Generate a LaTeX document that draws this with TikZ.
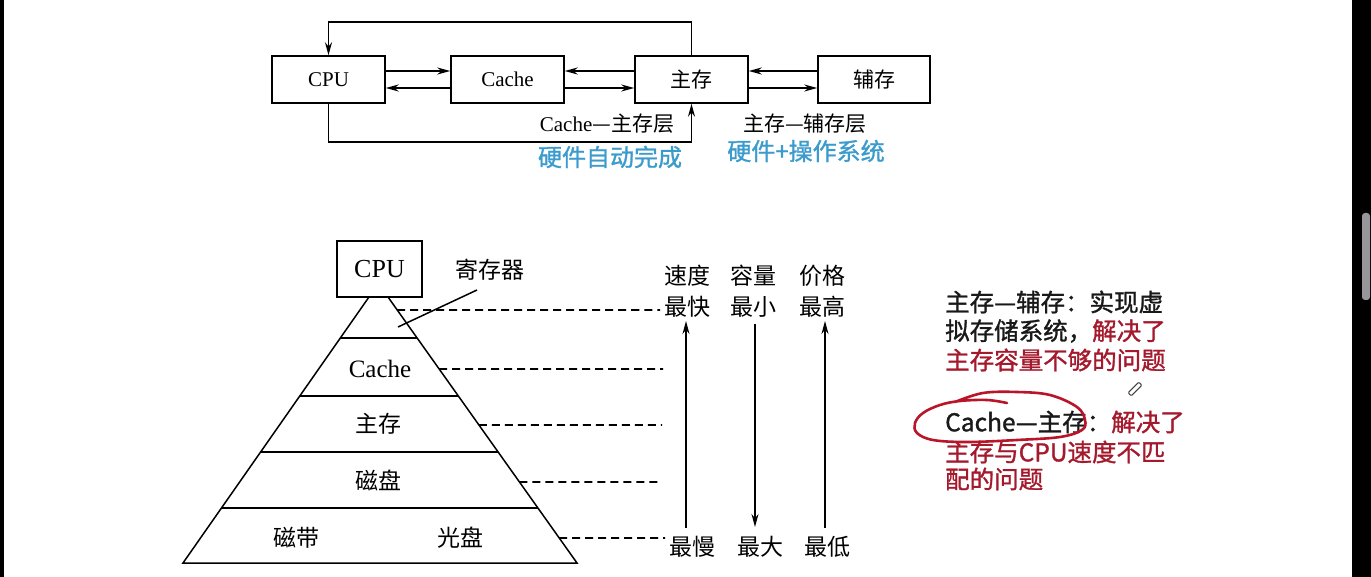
\documentclass[tikz,border=0pt]{standalone}
\usepackage{fontspec}
\setmainfont{Liberation Serif}
\newfontfamily\cjk{Noto Sans CJK SC}
\newfontfamily\cjkb{Noto Sans CJK SC}[FakeBold=1.2]
\usetikzlibrary{arrows.meta,calc}
\definecolor{hwblue}{RGB}{60,155,205}
\definecolor{notered}{RGB}{165,25,45}
\definecolor{inkred}{RGB}{185,20,40}
\definecolor{scrollgray}{RGB}{150,150,155}
\definecolor{notetext}{RGB}{25,25,25}
\tikzset{
  box/.style={draw, line width=1.5pt, minimum width=113pt, minimum height=47pt, inner sep=0pt, font=\fontsize{21}{24}\selectfont},
  arr/.style={line width=1.5pt, -{Stealth[length=13pt,width=7pt]}},
  lbl/.style={inner sep=0pt, font=\fontsize{21}{24}\selectfont},
  bluelbl/.style={inner sep=0pt, text=hwblue, font=\fontsize{24}{28}\selectfont\cjkb},
  plbl/.style={inner sep=0pt, font=\fontsize{23}{26}\selectfont\cjk},
  pline/.style={line width=1.5pt},
  dline/.style={line width=1.8pt, dash pattern=on 8pt off 5pt},
  note/.style={inner sep=0pt, anchor=west, text=notetext, font=\fontsize{24.5}{28}\selectfont\cjkb},
}
\begin{document}
\begin{tikzpicture}[x=1pt,y=-1pt]
% background and screen edges
\fill[white] (0,0) rectangle (1371,577);
\useasboundingbox (0,0) rectangle (1371,577);
\fill[black] (0,0) rectangle (3.5,577);
\fill[black] (1352,0) rectangle (1371,577);
\fill[scrollgray, rounded corners=3pt] (1362,213) rectangle (1370,300);

% ---------- top diagram ----------
\node[box] (cpu) at (328.5,79.5) {CPU};
\node[box] (cache) at (507.5,79.5) {Cache};
\node[box] (zc) at (691.5,79.5) {\cjk 主存};
\node[box, minimum width=112pt] (fc) at (874,79.5) {\cjk 辅存};

\draw[arr] ([yshift=8.5pt]cpu.east) -- ([yshift=8.5pt]cache.west);
\draw[arr] ([yshift=-8.5pt]cache.west) -- ([yshift=-8.5pt]cpu.east);
\draw[arr] ([yshift=8.5pt]zc.west) -- ([yshift=8.5pt]cache.east);
\draw[arr] ([yshift=-8.5pt]cache.east) -- ([yshift=-8.5pt]zc.west);
\draw[arr] ([yshift=8.5pt]fc.west) -- ([yshift=8.5pt]zc.east);
\draw[arr] ([yshift=-8.5pt]zc.east) -- ([yshift=-8.5pt]fc.west);

\coordinate (topy) at (0,22);
\coordinate (boty) at (0,142);
\draw[arr] (zc.north) -- (zc.north |- topy) -| (cpu.north);
\draw[arr] (cpu.south) -- (cpu.south |- boty) -| (zc.south);

\node[lbl] (l1) at (607,124) {Cache{\cjk —主存层}};
\node[lbl] (l2) at (805,124) {{\cjk 主存—辅存层}};
\node[bluelbl] (b1) at (610,157) {硬件自动完成};
\node[bluelbl] (b2) at (806,151) {硬件+操作系统};

% ---------- pyramid ----------
\coordinate (tl) at (369,297);
\coordinate (tr) at (388,297);
\coordinate (bl) at (183,563);
\coordinate (br) at (577,563);
\draw[pline] (tl) -- (bl) -- (br) -- (tr);
\node[draw, line width=1.5pt, minimum width=85pt, minimum height=56pt, inner sep=0pt,
      font=\fontsize{26}{28}\selectfont] (pcpu) at (379.5,269) {CPU};
\foreach \f in {0.1541,0.3722,0.5827,0.7932}
  \draw[pline] ($(tl)!\f!(bl)$) -- ($(tr)!\f!(br)$);

\node[inner sep=0pt, font=\fontsize{25}{28}\selectfont] (pcache) at (380,369) {Cache};
\node[plbl] (pzc) at (378,424) {主存};
\node[plbl] (pcp) at (378,480) {磁盘};
\node[plbl] (pcd) at (296,538) {磁带};
\node[plbl] (pgp) at (460,538) {光盘};
\node[plbl] (preg) at (490,270) {寄存器};
\coordinate (ld1) at (477,290);
\coordinate (ld2) at (398,327);
\draw[pline] (ld1) -- (ld2);

% dashed guide lines
\coordinate (de1) at (660,310);
\coordinate (de2) at (663,369);
\coordinate (de3) at (662,425);
\coordinate (de4) at (660,482);
\coordinate (de5) at (665,538);
\draw[dline] ($(tr)!0.0489!(br)$) -- (de1);
\draw[dline] ($(tr)!0.2707!(br)$) -- (de2);
\draw[dline] ($(tr)!0.4812!(br)$) -- (de3);
\draw[dline] ($(tr)!0.6955!(br)$) -- (de4);
\draw[dline] ($(tr)!0.9060!(br)$) -- (de5);

% property columns
\node[plbl] (sd) at (687,276) {速度};
\node[plbl] (zk) at (687,307) {最快};
\node[plbl] (rl) at (753,276) {容量};
\node[plbl] (zx) at (753,307) {最小};
\node[plbl] (jg) at (822,276) {价格};
\node[plbl] (zg) at (822,307) {最高};
\node[plbl] (zm) at (692,547) {最慢};
\node[plbl] (zd) at (760,547) {最大};
\node[plbl] (zdi) at (827,547) {最低};
\coordinate (sa1) at (686,528); \coordinate (sa2) at (686,321);
\coordinate (ca1) at (755,324); \coordinate (ca2) at (755,527);
\coordinate (pa1) at (825,528); \coordinate (pa2) at (825,321);
\draw[arr] (sa1) -- (sa2);
\draw[arr] (ca1) -- (ca2);
\draw[arr] (pa1) -- (pa2);

% ---------- notes ----------
\node[note] (n1) at (945,302) {主存—辅存：实现虚};
\node[note] (n2) at (945,331) {拟存储系统，\textcolor{notered}{解决了}};
\node[note, text=notered] (n3) at (945,360) {主存容量不够的问题};
\node[note] (n4) at (945,422) {Cache—主存：\textcolor{notered}{解决了}};
\node[note, text=notered] (n5) at (945,452) {主存与CPU速度不匹};
\node[note, text=notered] (n6) at (945,479) {配的问题};

\draw[inkred, line width=2.6pt, line cap=round, line join=round]
  plot[smooth, tension=0.6] coordinates {(955,402) (983,393) (1017,392) (1050,395) (1077,407) (1085,420) (1082,430) (1060,437) (1017,440) (967,442) (933,440) (917,433) (915,423) (923,413) (940,405) (960,401) (987,400) (1007,403)};

% pen cursor
\node[draw=black!75, line width=1pt, rounded corners=1pt, minimum width=15pt, minimum height=4.5pt, inner sep=0pt, rotate=45] (pen) at (1135,389) {};
\end{tikzpicture}
\end{document}
